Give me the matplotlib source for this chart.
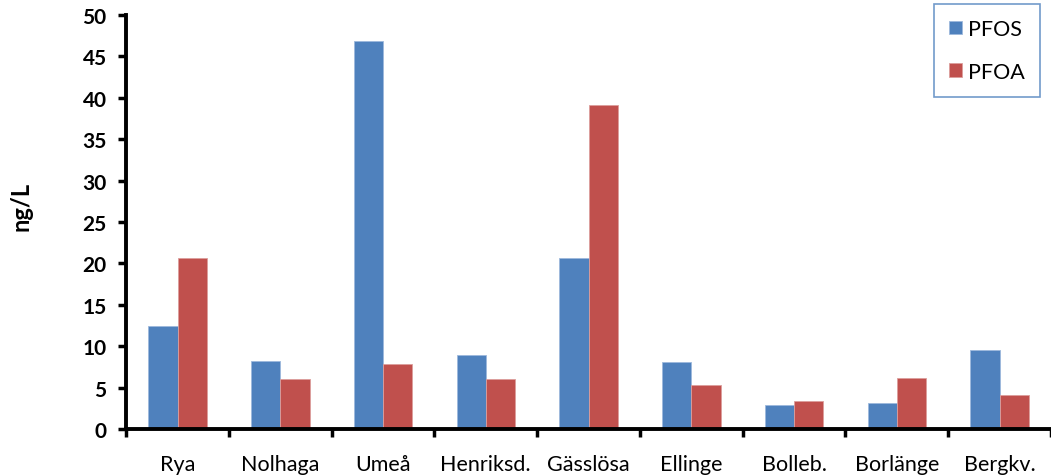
import numpy as np
import matplotlib.pyplot as plt

sites = ['Rya', 'Nolhaga', 'Umeå', 'Henriksd.', 'Gässlösa', 'Ellinge', 'Bolleb.', 'Borlänge', 'Bergkv.']
pfos = [12.4, 8.2, 46.9, 8.9, 20.7, 8.1, 2.9, 3.1, 9.6]
pfoa = [20.6, 6.1, 7.8, 6.0, 39.1, 5.3, 3.4, 6.2, 4.1]

plt.rcParams['font.family'] = ['Lato', 'DejaVu Sans']

fig = plt.figure(figsize=[10.51, 4.77], dpi=100)
ax = fig.add_axes([0.12, 0.0985, 0.88, 0.868])

x = np.arange(len(sites))
w = 0.285
ax.bar(x - w / 2, pfos, w, color='#4F81BD', edgecolor='#9DB9DC', linewidth=0.6, label='PFOS')
ax.bar(x + w / 2, pfoa, w, color='#C0504D', edgecolor='#DC9E9C', linewidth=0.6, label='PFOA')

ax.set_xlim(-0.5, 8.446)
ax.set_ylim(0, 50)
ax.set_yticks(np.arange(0, 51, 5))
ax.set_yticklabels([str(v) for v in range(0, 51, 5)], fontsize=15, fontweight='bold')

# ticks between categories, labels at centres
ax.set_xticks(np.arange(-0.5, 9, 1))
ax.set_xticklabels([])
ax.set_xticks(x, minor=True)
ax.set_xticklabels(sites, minor=True, fontsize=15.5)
ax.tick_params(axis='x', which='minor', length=0, pad=18)
ax.tick_params(axis='x', which='major', direction='out', length=6, width=2.5)
ax.tick_params(axis='y', direction='out', length=6, width=2.5, pad=8)

for s in ['top', 'right']:
    ax.spines[s].set_visible(False)
for s in ['left', 'bottom']:
    ax.spines[s].set_linewidth(2.8)

ax.set_ylabel('ng/L', fontsize=17, fontweight='bold')
ax.yaxis.set_label_coords(-0.1016, 0.541)

leg = ax.legend(loc='upper right', bbox_to_anchor=(1040 / 1051, 1 - 5 / 477),
                bbox_transform=fig.transFigure, fontsize=15.5, frameon=True, fancybox=False,
                handlelength=0.6, handleheight=0.6, labelspacing=1.05, borderpad=0.7,
                handletextpad=0.3, borderaxespad=0)
leg.get_frame().set_edgecolor('#4F81BD')
leg.get_frame().set_linewidth(1.2)

fig.savefig('out.png', dpi=100)
